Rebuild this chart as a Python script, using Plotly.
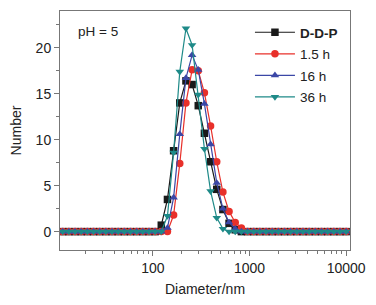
import plotly.graph_objects as go

diameters = [11.70, 13.54, 15.69, 18.17, 21.04, 24.36, 28.21, 32.67, 37.84, 43.82,
             50.75, 58.77, 68.06, 78.82, 91.28, 105.7, 122.4, 141.8, 164.2, 190.1,
             220.2, 255.0, 295.3, 342.0, 396.1, 458.7, 531.2, 615.1, 712.4, 825.0,
             955.4, 1106, 1281, 1484, 1718, 1990, 2305, 2669, 3091, 3580,
             4145, 4801, 5560, 6439, 7456, 8635, 10000]

ddp = [0, 0, 0, 0, 0, 0, 0, 0, 0, 0,
       0, 0, 0, 0, 0, 0, 0.7, 3.5, 8.8, 14.0,
       16.4, 16.0, 13.7, 10.7, 7.6, 4.6, 2.4, 0.9, 0.2, 0,
       0, 0, 0, 0, 0, 0, 0, 0, 0, 0,
       0, 0, 0, 0, 0, 0, 0]
h1_5 = [0, 0, 0, 0, 0, 0, 0, 0, 0, 0,
        0, 0, 0, 0, 0, 0, 0, 0, 1.8, 7.4,
        14.0, 17.6, 17.5, 15.1, 11.5, 7.6, 4.3, 2.2, 1.0, 0.4,
        0, 0, 0, 0, 0, 0, 0, 0, 0, 0,
        0, 0, 0, 0, 0, 0, 0]
h16 = [0, 0, 0, 0, 0, 0, 0, 0, 0, 0,
       0, 0, 0, 0, 0, 0, 0, 0.4, 3.7, 10.6,
       16.7, 19.2, 17.6, 13.9, 9.5, 5.3, 2.5, 1.0, 0.3, 0,
       0, 0, 0, 0, 0, 0, 0, 0, 0, 0,
       0, 0, 0, 0, 0, 0, 0]
h36 = [0, 0, 0, 0, 0, 0, 0, 0, 0, 0,
       0, 0, 0, 0, 0, 0, 0, 1.7, 8.6, 17.4,
       22.1, 20.3, 14.9, 9.0, 4.4, 1.5, 0.3, 0, 0, 0,
       0, 0, 0, 0, 0, 0, 0, 0, 0, 0,
       0, 0, 0, 0, 0, 0, 0]

series_names = ["<b>D-D-P</b>", "1.5 h", "16 h", "36 h"]
series_values = [ddp, h1_5, h16, h36]
colors = ["#1a1a1a", "#e8302a", "#3b47a6", "#1e8a88"]
symbols = ["square", "circle", "triangle-up", "triangle-down"]

FONT = "Arial, Liberation Sans, sans-serif"

fig = go.Figure()
for i, (name, vals) in enumerate(zip(series_names, series_values)):
    fig.add_trace(go.Scatter(
        x=diameters, y=vals, name=name, mode="lines+markers",
        line=dict(color=colors[i], width=1.2),
        marker=dict(symbol=symbols[i], size=7.5, color=colors[i]),
        legendgroup=str(i),
    ))

axis_common = dict(showline=True, linecolor="#777", linewidth=1, mirror=True,
                   showgrid=False, zeroline=False, ticks="outside",
                   tickcolor="#777", ticklen=5,
                   tickfont=dict(family=FONT, size=14, color="#222"))

fig.update_xaxes(type="log", range=[1.04, 4.04],
                 tickvals=[100, 1000, 10000], ticktext=["100", "1000", "10000"],
                 minor=dict(ticks="outside", dtick="D1", ticklen=3, tickcolor="#777"),
                 title=dict(text="Diameter/nm", font=dict(family=FONT, size=14, color="#222"),
                            standoff=9),
                 **axis_common)
fig.update_yaxes(range=[-2, 24], dtick=5, tick0=0,
                 minor=dict(ticks="outside", dtick=2.5, ticklen=3, tickcolor="#777"),
                 title=dict(text="Number", font=dict(family=FONT, size=14, color="#222"),
                            standoff=10),
                 **axis_common)

fig.add_annotation(text="pH = 5", xref="paper", yref="paper", x=0.055, y=0.915,
                   xanchor="left", yanchor="middle", showarrow=False,
                   font=dict(family=FONT, size=13.5, color="#222"))

fig.update_layout(
    width=376, height=305,
    margin=dict(l=60, r=19, t=10, b=52),
    paper_bgcolor="white", plot_bgcolor="white",
    showlegend=True,
    legend=dict(x=0.655, y=0.975, xanchor="left", yanchor="top",
                bgcolor="rgba(0,0,0,0)", borderwidth=0, itemwidth=40,
                font=dict(family=FONT, size=13.5, color="#222"),
                traceorder="grouped", tracegroupgap=1),
)

fig.write_html("out.html", config={"displayModeBar": False},
               post_script="document.body.style.margin='0';document.body.style.overflow='hidden';")
